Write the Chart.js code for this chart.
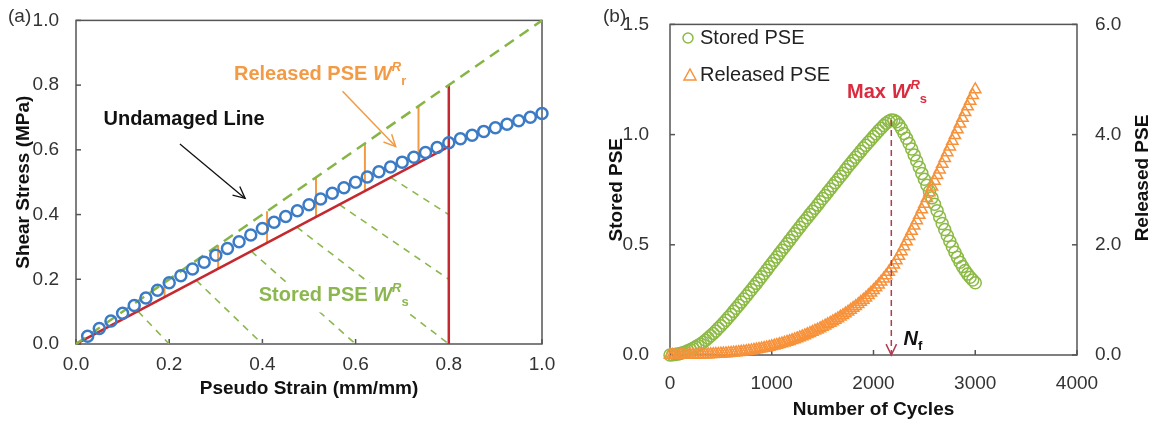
<!DOCTYPE html>
<html>
<head>
<meta charset="utf-8">
<script src="https://cdn.jsdelivr.net/npm/chart.js@4.4.1/dist/chart.umd.min.js"></script>
<style>
  body { margin: 0; background: #fff; }
  #wrap { position: relative; width: 1156px; height: 425px; }
  canvas { position: absolute; top: 0; }
  #chartA { left: 0; }
  #chartB { left: 578px; }
</style>
</head>
<body>
<div id="wrap">
  <canvas id="chartA" width="578" height="425"></canvas>
  <canvas id="chartB" width="578" height="425"></canvas>
</div>
<script>
// ---- (a) shear stress vs pseudo strain ----
var strain = [0.025, 0.05, 0.075, 0.1, 0.125, 0.15, 0.175, 0.2, 0.225, 0.25,
  0.275, 0.3, 0.325, 0.35, 0.375, 0.4, 0.425, 0.45, 0.475, 0.5,
  0.525, 0.55, 0.575, 0.6, 0.625, 0.65, 0.675, 0.7, 0.725, 0.75,
  0.775, 0.8, 0.825, 0.85, 0.875, 0.9, 0.925, 0.95, 0.975, 1.0];
var stress = [0.024, 0.048, 0.071, 0.095, 0.119, 0.142, 0.166, 0.189, 0.211, 0.232,
  0.253, 0.274, 0.295, 0.316, 0.337, 0.357, 0.376, 0.394, 0.412, 0.43,
  0.448, 0.466, 0.483, 0.5, 0.516, 0.532, 0.547, 0.562, 0.577, 0.592,
  0.607, 0.622, 0.634, 0.645, 0.657, 0.668, 0.679, 0.69, 0.701, 0.712];
var undamagedX = [0, 1];
var undamagedY = [0, 1];
var damagedX = [0, 0.8];
var damagedY = [0, 0.61];
var failX = [0.8, 0.8];
var failY = [0, 0.8];
var releasedX = [0.19, 0.305, 0.41, 0.515, 0.62, 0.735];
var releasedLow = [0.145, 0.233, 0.313, 0.393, 0.473, 0.561];
var releasedHigh = [0.19, 0.305, 0.41, 0.515, 0.62, 0.735];
var storedX1 = [0.133, 0.258, 0.376, 0.474, 0.565, 0.675];
var storedY1 = [0.101, 0.197, 0.287, 0.361, 0.431, 0.515];
var storedX2 = [0.2, 0.4, 0.6, 0.8, 0.8, 0.8];
var storedY2 = [0, 0, 0, 0, 0.2, 0.4];
// arrows: x1, y1, x2, y2 (data units)
var undamagedArrow = [0.223, 0.618, 0.363, 0.45];
var releasedArrow = [0.572, 0.781, 0.686, 0.61];

// ---- (b) stored / released PSE vs cycles ----
var cycles = [0, 25, 50, 75, 100, 125, 150, 175, 200, 225, 250, 275, 300, 325, 350, 375,
  400, 425, 450, 475, 500, 525, 550, 575, 600, 625, 650, 675, 700, 725, 750, 775,
  800, 825, 850, 875, 900, 925, 950, 975, 1000, 1025, 1050, 1075, 1100, 1125, 1150, 1175,
  1200, 1225, 1250, 1275, 1300, 1325, 1350, 1375, 1400, 1425, 1450, 1475, 1500, 1525, 1550, 1575,
  1600, 1625, 1650, 1675, 1700, 1725, 1750, 1775, 1800, 1825, 1850, 1875, 1900, 1925, 1950, 1975,
  2000, 2025, 2050, 2075, 2100, 2125, 2150, 2175, 2200, 2225, 2250, 2275, 2300, 2325, 2350, 2375,
  2400, 2425, 2450, 2475, 2500, 2525, 2550, 2575, 2600, 2625, 2650, 2675, 2700, 2725, 2750, 2775,
  2800, 2825, 2850, 2875, 2900, 2925, 2950, 2975, 3000];
var storedPSE = [0.000, 0.001, 0.002, 0.004, 0.007, 0.010, 0.014, 0.019, 0.024, 0.030, 0.036, 0.043, 0.050, 0.058, 0.067, 0.077,
  0.087, 0.098, 0.109, 0.121, 0.133, 0.145, 0.158, 0.171, 0.184, 0.198, 0.212, 0.226, 0.240, 0.254, 0.268, 0.282,
  0.296, 0.311, 0.325, 0.340, 0.355, 0.370, 0.385, 0.400, 0.415, 0.430, 0.445, 0.460, 0.475, 0.490, 0.505, 0.520,
  0.535, 0.550, 0.565, 0.580, 0.595, 0.609, 0.623, 0.638, 0.652, 0.666, 0.681, 0.695, 0.710, 0.724, 0.739, 0.753,
  0.768, 0.782, 0.796, 0.811, 0.825, 0.840, 0.855, 0.869, 0.883, 0.897, 0.911, 0.925, 0.939, 0.952, 0.965, 0.978,
  0.991, 1.004, 1.017, 1.029, 1.041, 1.052, 1.061, 1.066, 1.065, 1.058, 1.045, 1.027, 1.005, 0.983, 0.960, 0.935,
  0.908, 0.880, 0.852, 0.824, 0.797, 0.770, 0.742, 0.713, 0.684, 0.655, 0.626, 0.597, 0.569, 0.542, 0.516, 0.491,
  0.466, 0.443, 0.421, 0.401, 0.383, 0.367, 0.353, 0.340, 0.328];
var releasedPSE = [0.000, 0.000, 0.000, 0.000, 0.001, 0.001, 0.002, 0.002, 0.003, 0.004, 0.005, 0.006, 0.007, 0.008, 0.009, 0.011,
  0.013, 0.015, 0.017, 0.020, 0.023, 0.026, 0.029, 0.033, 0.037, 0.041, 0.046, 0.051, 0.057, 0.063, 0.069, 0.076,
  0.083, 0.091, 0.099, 0.107, 0.116, 0.125, 0.135, 0.146, 0.157, 0.169, 0.181, 0.194, 0.207, 0.221, 0.236, 0.251,
  0.267, 0.283, 0.300, 0.318, 0.336, 0.355, 0.375, 0.395, 0.416, 0.438, 0.460, 0.483, 0.507, 0.531, 0.556, 0.582,
  0.608, 0.635, 0.663, 0.692, 0.721, 0.752, 0.784, 0.817, 0.851, 0.886, 0.922, 0.960, 0.999, 1.040, 1.083, 1.128,
  1.175, 1.224, 1.275, 1.328, 1.384, 1.443, 1.505, 1.570, 1.640, 1.715, 1.795, 1.880, 1.970, 2.062, 2.155, 2.250,
  2.345, 2.442, 2.540, 2.640, 2.740, 2.844, 2.948, 3.052, 3.156, 3.260, 3.364, 3.468, 3.572, 3.676, 3.780, 3.884,
  3.988, 4.092, 4.196, 4.300, 4.404, 4.508, 4.612, 4.716, 4.820];
var failCycle = 2175;     // N_f, at max stored PSE
var maxStored = 1.066;

var FONT = '"Liberation Sans", Arial, Helvetica, sans-serif';
Chart.defaults.font.family = FONT;
Chart.defaults.color = '#333';
var frameColor = '#555';

function pts(xs, ys) {
  return xs.map(function (x, i) { return { x: x, y: ys[i] }; });
}

// separate segments joined into one dataset with null breaks
function segs(x1, y1, x2, y2) {
  var out = [];
  for (var i = 0; i < x1.length; i++) {
    out.push({ x: x1[i], y: y1[i] }, { x: x2[i], y: y2[i] }, { x: x2[i], y: null });
  }
  return out;
}

function richText(ctx, x, y, parts) {
  ctx.textBaseline = 'middle';
  ctx.textAlign = 'left';
  parts.forEach(function (p) {
    ctx.font = p.font;
    ctx.fillStyle = p.color;
    ctx.fillText(p.text, x, y + (p.dy || 0));
    x += ctx.measureText(p.text).width;
  });
  return x;
}

function arrow(ctx, x1, y1, x2, y2, color, width, head) {
  var ang = Math.atan2(y2 - y1, x2 - x1);
  ctx.save();
  ctx.strokeStyle = color;
  ctx.lineWidth = width;
  ctx.beginPath();
  ctx.moveTo(x1, y1);
  ctx.lineTo(x2, y2);
  ctx.stroke();
  ctx.setLineDash([]);
  ctx.beginPath();
  ctx.moveTo(x2 - head * Math.cos(ang - 0.45), y2 - head * Math.sin(ang - 0.45));
  ctx.lineTo(x2, y2);
  ctx.lineTo(x2 - head * Math.cos(ang + 0.45), y2 - head * Math.sin(ang + 0.45));
  ctx.stroke();
  ctx.restore();
}

// box around plot + small ticks pointing inwards
var frame = {
  id: 'frame',
  beforeDatasetsDraw: function (chart) {
    var ctx = chart.ctx, a = chart.chartArea;
    ctx.save();
    ctx.strokeStyle = frameColor;
    ctx.lineWidth = 1.5;
    Object.keys(chart.scales).forEach(function (k) {
      var s = chart.scales[k];
      s.ticks.forEach(function (t) {
        var p = s.getPixelForValue(t.value);
        ctx.beginPath();
        if (s.axis === 'x') { ctx.moveTo(p, a.bottom); ctx.lineTo(p, a.bottom - 5); }
        else if (s.position === 'left') { ctx.moveTo(a.left, p); ctx.lineTo(a.left + 5, p); }
        else { ctx.moveTo(a.right, p); ctx.lineTo(a.right - 5, p); }
        ctx.stroke();
      });
    });
    ctx.strokeRect(a.left, a.top, a.right - a.left, a.bottom - a.top);
    ctx.restore();
  }
};

function bold(sz) { return 'bold ' + sz + 'px ' + FONT; }
function ibold(sz) { return 'italic bold ' + sz + 'px ' + FONT; }

var notesA = {
  id: 'notesA',
  afterDatasetsDraw: function (chart) {
    var ctx = chart.ctx, sx = chart.scales.x, sy = chart.scales.y;
    var X = function (v) { return sx.getPixelForValue(v); };
    var Y = function (v) { return sy.getPixelForValue(v); };
    ctx.save();
    arrow(ctx, X(undamagedArrow[0]), Y(undamagedArrow[1]), X(undamagedArrow[2]), Y(undamagedArrow[3]), '#111', 1.3, 13);
    arrow(ctx, X(releasedArrow[0]), Y(releasedArrow[1]), X(releasedArrow[2]), Y(releasedArrow[3]), '#f39a45', 1.5, 13);
    richText(ctx, X(0.059), Y(0.694), [{ text: 'Undamaged Line', font: bold(20), color: '#111' }]);
    var orange = '#f39a45';
    richText(ctx, X(0.339), Y(0.832), [
      { text: 'Released PSE ', font: bold(20), color: orange },
      { text: 'W', font: ibold(20), color: orange },
      { text: 'R', font: ibold(13), color: orange, dy: -7 },
      { text: 'r', font: bold(13), color: orange, dy: 7 }
    ]);
    var green = '#8bb74e';
    var tx = X(0.392), ty = Y(0.15);
    ctx.fillStyle = '#fff';
    ctx.fillRect(tx - 3, ty - 13, 168, 30);
    richText(ctx, tx, ty, [
      { text: 'Stored PSE ', font: bold(20), color: green },
      { text: 'W', font: ibold(20), color: green },
      { text: 'R', font: ibold(13), color: green, dy: -7 },
      { text: 's', font: bold(13), color: green, dy: 7 }
    ]);
    ctx.font = '19px ' + FONT;
    ctx.fillStyle = '#333';
    ctx.textAlign = 'left';
    ctx.textBaseline = 'middle';
    ctx.fillText('(a)', 8, 17);
    ctx.restore();
  }
};

var notesB = {
  id: 'notesB',
  afterDatasetsDraw: function (chart) {
    var ctx = chart.ctx, sx = chart.scales.x, sy = chart.scales.y;
    var X = function (v) { return sx.getPixelForValue(v); };
    var Y = function (v) { return sy.getPixelForValue(v); };
    ctx.save();
    // dashed arrow from max stored PSE down to N_f
    ctx.setLineDash([6, 4]);
    arrow(ctx, X(failCycle), Y(maxStored), X(failCycle), Y(0), '#b33a50', 1.5, 12);
    ctx.setLineDash([]);
    var red = '#dc2b3f';
    richText(ctx, X(1740), Y(1.19), [
      { text: 'Max ', font: bold(20), color: red },
      { text: 'W', font: ibold(20), color: red },
      { text: 'R', font: ibold(13), color: red, dy: -7 },
      { text: 's', font: bold(13), color: red, dy: 7 }
    ]);
    richText(ctx, X(2296), Y(0.07), [
      { text: 'N', font: ibold(20), color: '#111' },
      { text: 'f', font: bold(13), color: '#111', dy: 7 }
    ]);
    // legend
    ctx.lineWidth = 1.5;
    ctx.strokeStyle = '#8cba45';
    ctx.beginPath();
    ctx.arc(110, 38, 5, 0, Math.PI * 2);
    ctx.stroke();
    ctx.strokeStyle = '#f7923a';
    ctx.beginPath();
    ctx.moveTo(112, 69); ctx.lineTo(118, 80); ctx.lineTo(106, 80); ctx.closePath();
    ctx.stroke();
    ctx.font = '20px ' + FONT;
    ctx.fillStyle = '#222';
    ctx.textAlign = 'left';
    ctx.textBaseline = 'middle';
    ctx.fillText('Stored PSE', 122, 38);
    ctx.fillText('Released PSE', 122, 75);
    ctx.font = '19px ' + FONT;
    ctx.fillStyle = '#333';
    ctx.fillText('(b)', 25, 17);
    // right axis title reads bottom-to-top like the left one
    ctx.translate(565, 178);
    ctx.rotate(-Math.PI / 2);
    ctx.font = bold(19);
    ctx.fillStyle = '#111';
    ctx.textAlign = 'center';
    ctx.fillText('Released PSE', 0, 0);
    ctx.restore();
  }
};

var tickFont = { size: 19 };
var titleFont = { size: 19, weight: 'bold' };

new Chart(document.getElementById('chartA'), {
  type: 'scatter',
  data: {
    datasets: [
      { data: pts(strain, stress), borderColor: '#3b7bc6', backgroundColor: 'rgba(0,0,0,0)',
        pointRadius: 5.5, borderWidth: 2.5, clip: false },
      { data: pts(undamagedX, undamagedY), showLine: true, pointRadius: 0,
        borderColor: '#86b545', borderWidth: 2.5, borderDash: [11, 7], clip: false },
      { data: pts(damagedX, damagedY), showLine: true, pointRadius: 0,
        borderColor: '#c5282f', borderWidth: 2.5 },
      { data: pts(failX, failY), showLine: true, pointRadius: 0,
        borderColor: '#c5282f', borderWidth: 2.5 },
      { data: segs(releasedX, releasedLow, releasedX, releasedHigh), showLine: true, pointRadius: 0,
        borderColor: '#f39a45', borderWidth: 2 },
      { data: segs(storedX1, storedY1, storedX2, storedY2), showLine: true, pointRadius: 0,
        borderColor: '#8bb74e', borderWidth: 1.6, borderDash: [7, 6] }
    ]
  },
  options: {
    responsive: false,
    animation: false,
    events: [],
    layout: { padding: { top: 17, right: 36, left: 0, bottom: 0 } },
    plugins: { legend: { display: false }, tooltip: { enabled: false } },
    scales: {
      x: {
        type: 'linear', min: 0, max: 1,
        grid: { display: false }, border: { display: false },
        ticks: { stepSize: 0.2, padding: 1, font: tickFont, maxRotation: 0,
          callback: function (v) { return v.toFixed(1); } },
        title: { display: true, text: 'Pseudo Strain (mm/mm)', color: '#111', font: titleFont,
          padding: { top: 0, bottom: 25 } },
        afterFit: function (s) { s.height = 81; }
      },
      y: {
        min: 0, max: 1,
        grid: { display: false }, border: { display: false },
        ticks: { stepSize: 0.2, padding: 9, font: tickFont,
          callback: function (v) { return v.toFixed(1); } },
        title: { display: true, text: 'Shear Stress (MPa)', color: '#111', font: titleFont,
          padding: { top: 12, bottom: 0 } },
        afterFit: function (s) { s.width = 76; }
      }
    }
  },
  plugins: [frame, notesA]
});

new Chart(document.getElementById('chartB'), {
  type: 'scatter',
  data: {
    datasets: [
      { data: pts(cycles, releasedPSE), yAxisID: 'y2', pointStyle: 'triangle',
        borderColor: '#f7923a', backgroundColor: 'rgba(0,0,0,0)',
        pointRadius: 6.5, borderWidth: 1.5, clip: false },
      { data: pts(cycles, storedPSE), yAxisID: 'y', pointStyle: 'circle',
        borderColor: '#8cba45', backgroundColor: 'rgba(0,0,0,0)',
        pointRadius: 6, borderWidth: 1.5, clip: false }
    ]
  },
  options: {
    responsive: false,
    animation: false,
    events: [],
    layout: { padding: { top: 15, right: 0, left: 0, bottom: 0 } },
    plugins: { legend: { display: false }, tooltip: { enabled: false } },
    scales: {
      x: {
        type: 'linear', min: 0, max: 4000,
        grid: { display: false }, border: { display: false },
        ticks: { stepSize: 1000, padding: 9, font: tickFont, maxRotation: 0,
          callback: function (v) { return String(v); } },
        title: { display: true, text: 'Number of Cycles', color: '#111', font: titleFont,
          padding: { top: 0, bottom: 4 } },
        afterFit: function (s) { s.height = 70; }
      },
      y: {
        position: 'left', min: 0, max: 1.5,
        grid: { display: false }, border: { display: false },
        ticks: { stepSize: 0.5, padding: 13, font: tickFont,
          callback: function (v) { return v.toFixed(1); } },
        title: { display: true, text: 'Stored PSE', color: '#111', font: titleFont,
          padding: { top: 27, bottom: 0 } },
        afterFit: function (s) { s.width = 92; }
      },
      y2: {
        position: 'right', min: 0, max: 6,
        grid: { display: false }, border: { display: false },
        ticks: { stepSize: 2, padding: 10, font: tickFont,
          callback: function (v) { return v.toFixed(1); } },
        title: { display: false },
        afterFit: function (s) { s.width = 79; }
      }
    }
  },
  plugins: [frame, notesB]
});
</script>
</body>
</html>
